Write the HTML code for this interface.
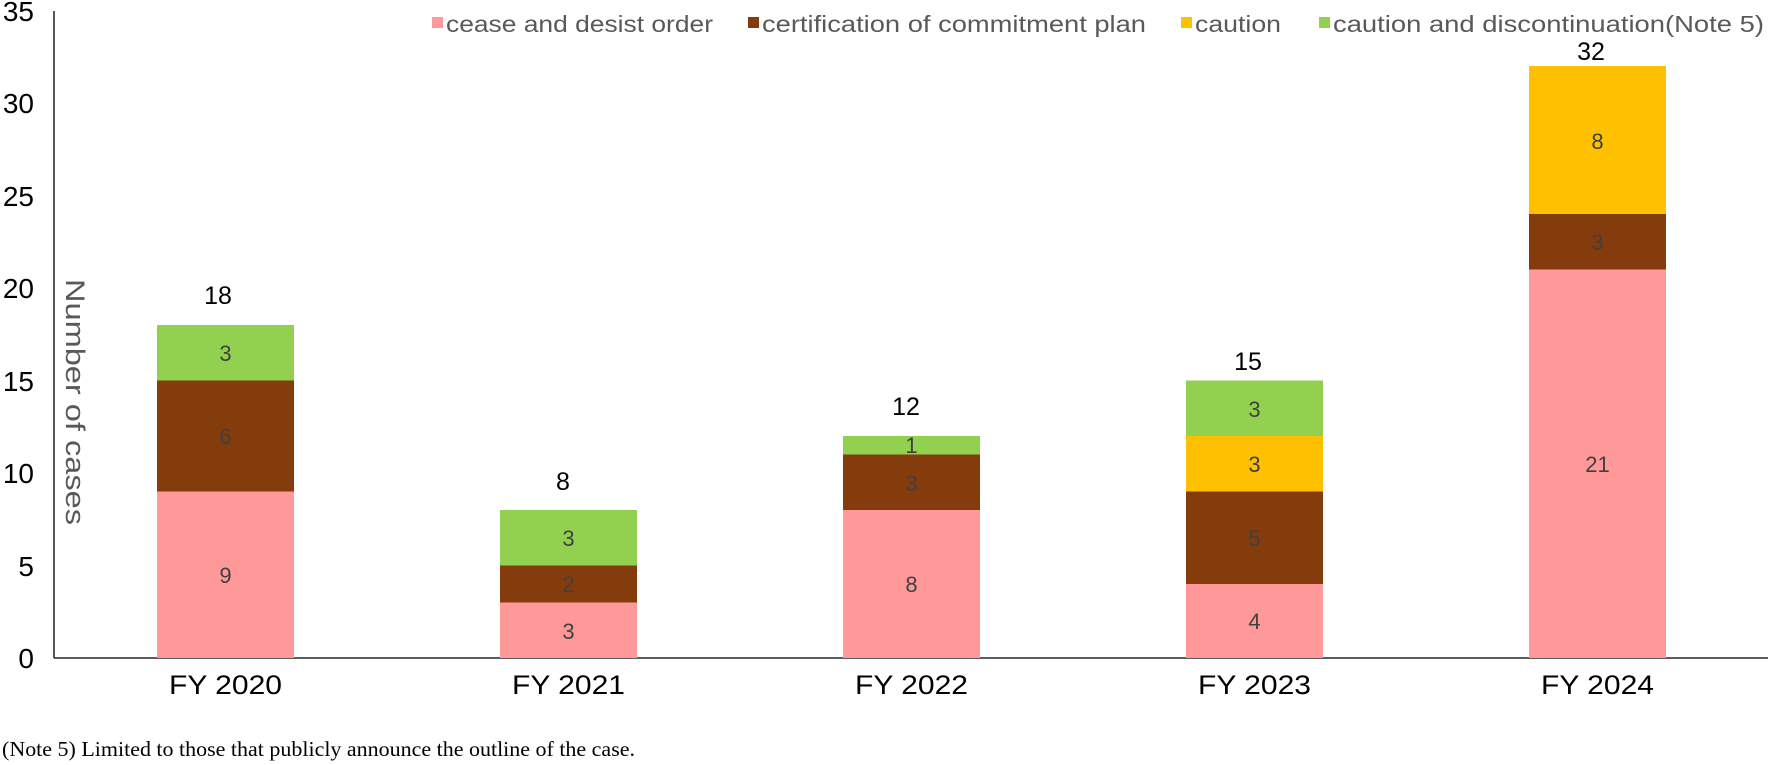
<!DOCTYPE html>
<html><head><meta charset="utf-8"><style>
html,body{margin:0;padding:0;background:#fff;}
svg{display:block;font-family:"Liberation Sans","DejaVu Sans",sans-serif;}
</style></head><body>
<svg width="1768" height="765" viewBox="0 0 1768 765" xmlns="http://www.w3.org/2000/svg">
<line x1="54" y1="11" x2="54" y2="658" stroke="#595959" stroke-width="2"/>
<line x1="54" y1="658" x2="1768" y2="658" stroke="#262626" stroke-width="1.5"/>
<g font-size="28" fill="#000" text-anchor="end">
<text x="34" y="21">35</text>
<text x="34" y="113">30</text>
<text x="34" y="206">25</text>
<text x="34" y="298">20</text>
<text x="34" y="391">15</text>
<text x="34" y="483">10</text>
<text x="34" y="576">5</text>
<text x="34" y="668">0</text>
</g>
<text transform="translate(66,279) rotate(90)" font-size="27" fill="#595959" textLength="246" lengthAdjust="spacingAndGlyphs">Number of cases</text>
<g font-size="23" fill="#595959">
<rect x="432" y="17" width="11" height="11" fill="#FF9999"/><text x="446" y="32" textLength="267" lengthAdjust="spacingAndGlyphs">cease and desist order</text>
<rect x="748" y="17" width="11" height="11" fill="#843C0C"/><text x="762" y="32" textLength="384" lengthAdjust="spacingAndGlyphs">certification of commitment plan</text>
<rect x="1181" y="17" width="11" height="11" fill="#FFC000"/><text x="1195" y="32" textLength="86" lengthAdjust="spacingAndGlyphs">caution</text>
<rect x="1319" y="17" width="11" height="11" fill="#92D050"/><text x="1333" y="32" textLength="431" lengthAdjust="spacingAndGlyphs">caution and discontinuation(Note 5)</text>
</g>
<g>
<rect x="157" y="491.5" width="137" height="166.5" fill="#FF9999"/>
<rect x="157" y="380.5" width="137" height="111" fill="#843C0C"/>
<rect x="157" y="325" width="137" height="55.5" fill="#92D050"/>
<rect x="500" y="602.5" width="137" height="55.5" fill="#FF9999"/>
<rect x="500" y="565.5" width="137" height="37" fill="#843C0C"/>
<rect x="500" y="510" width="137" height="55.5" fill="#92D050"/>
<rect x="843" y="510" width="137" height="148" fill="#FF9999"/>
<rect x="843" y="454.5" width="137" height="55.5" fill="#843C0C"/>
<rect x="843" y="436" width="137" height="18.5" fill="#92D050"/>
<rect x="1186" y="584" width="137" height="74" fill="#FF9999"/>
<rect x="1186" y="491.5" width="137" height="92.5" fill="#843C0C"/>
<rect x="1186" y="436" width="137" height="55.5" fill="#FFC000"/>
<rect x="1186" y="380.5" width="137" height="55.5" fill="#92D050"/>
<rect x="1529" y="269.5" width="137" height="388.5" fill="#FF9999"/>
<rect x="1529" y="214" width="137" height="55.5" fill="#843C0C"/>
<rect x="1529" y="66" width="137" height="148" fill="#FFC000"/>
</g>
<g font-size="22" fill="#404040" text-anchor="middle">
<text x="225.5" y="583">9</text><text x="225.5" y="444">6</text><text x="225.5" y="361">3</text>
<text x="568.5" y="639">3</text><text x="568.5" y="592">2</text><text x="568.5" y="546">3</text>
<text x="911.5" y="592">8</text><text x="911.5" y="491">3</text><text x="911.5" y="453">1</text>
<text x="1254.5" y="629">4</text><text x="1254.5" y="546">5</text><text x="1254.5" y="472">3</text><text x="1254.5" y="417">3</text>
<text x="1597.5" y="472">21</text><text x="1597.5" y="250">3</text><text x="1597.5" y="149">8</text>
</g>
<g font-size="25" fill="#000" text-anchor="middle">
<text x="218" y="304">18</text>
<text x="563" y="490">8</text>
<text x="906" y="415">12</text>
<text x="1248" y="370">15</text>
<text x="1591" y="60">32</text>
</g>
<g font-size="27" fill="#000" text-anchor="middle">
<text x="225.5" y="694" textLength="113" lengthAdjust="spacingAndGlyphs">FY 2020</text>
<text x="568.5" y="694" textLength="113" lengthAdjust="spacingAndGlyphs">FY 2021</text>
<text x="911.5" y="694" textLength="113" lengthAdjust="spacingAndGlyphs">FY 2022</text>
<text x="1254.5" y="694" textLength="113" lengthAdjust="spacingAndGlyphs">FY 2023</text>
<text x="1597.5" y="694" textLength="113" lengthAdjust="spacingAndGlyphs">FY 2024</text>
</g>
<text x="2" y="756" font-family="'Liberation Serif',serif" font-size="21" fill="#000" textLength="633" lengthAdjust="spacingAndGlyphs">(Note 5) Limited to those that publicly announce the outline of the case.</text>
</svg>
</body></html>
